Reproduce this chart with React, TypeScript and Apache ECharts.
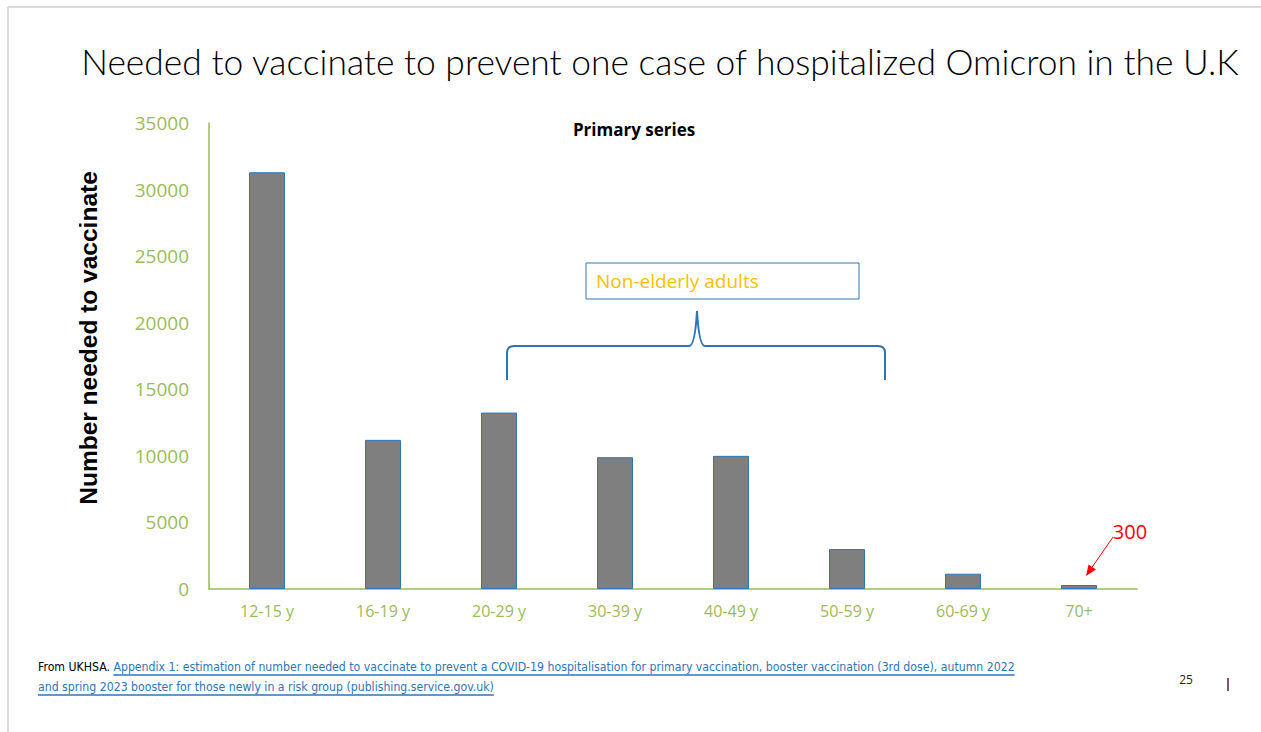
import React, { useEffect, useRef } from "react";
import * as echarts from "echarts";

const categories = ["12-15 y", "16-19 y", "20-29 y", "30-39 y", "40-49 y", "50-59 y", "60-69 y", "70+"];
const values = [31300, 11200, 13250, 9900, 10000, 3000, 1150, 300];
const yTicks = { min: 0, max: 35000, interval: 5000 };

const TITLE = "Needed to vaccinate to prevent one case of hospitalized Omicron in the U.K";
const SUBTITLE = "Primary series";
const Y_NAME = "Number needed to vaccinate";
const BOX_LABEL = "Non-elderly adults";
const ARROW_LABEL = "300";
const SRC_PREFIX = "From UKHSA. ";
const SRC_LINK1 = "Appendix 1: estimation of number needed to vaccinate to prevent a COVID-19 hospitalisation for primary vaccination, booster vaccination (3rd dose), autumn 2022";
const SRC_LINK2 = "and spring 2023 booster for those newly in a risk group (publishing.service.gov.uk)";
const PAGE_NO = "25";

const GREEN = "#9BBB59";
const BLUE = "#2E75B6";
const NARROW = "'Liberation Sans Narrow', 'DejaVu Sans Condensed', sans-serif";

const BRACE_D =
  "M507,380 L507,353 Q507,346 514,346 L689,346 Q695,346 697,311 Q699,346 705,346 L878,346 Q885,346 885,353 L885,380";

let braceRegistered = false;

function measure(text: string, font: string): number {
  const c = document.createElement("canvas");
  const ctx = c.getContext("2d");
  if (!ctx) return text.length * 5;
  ctx.font = font;
  return ctx.measureText(text).width;
}

export default function App() {
  const ref = useRef<HTMLDivElement>(null);

  useEffect(() => {
    if (!ref.current) return;
    if (!braceRegistered) {
      echarts.graphic.registerShape("brace", echarts.graphic.extendPath(BRACE_D, {}) as any);
      braceRegistered = true;
    }
    const chart = echarts.init(ref.current, null, { renderer: "svg" });

    const footFont = `12.2px ${NARROW}`;
    const prefixW = measure(SRC_PREFIX, footFont);
    const link1W = measure(SRC_LINK1, footFont);
    const link2W = measure(SRC_LINK2, footFont);
    const fx = 38;

    const tip = [1086, 576];
    const start = [1113, 537];
    const dx = tip[0] - start[0];
    const dy = tip[1] - start[1];
    const len = Math.sqrt(dx * dx + dy * dy);
    const ux = dx / len;
    const uy = dy / len;
    const bx = tip[0] - ux * 11;
    const by = tip[1] - uy * 11;
    const px = -uy;
    const py = ux;

    const option: any = {
      animation: false,
      backgroundColor: "#ffffff",
      grid: { left: 209, right: 124, top: 123, bottom: 143, containLabel: false },
      xAxis: {
        type: "category",
        data: categories,
        axisLine: { show: true, lineStyle: { color: GREEN, width: 1.5 } },
        axisTick: { show: false },
        axisLabel: {
          color: GREEN,
          fontSize: 16,
          fontFamily: "'Open Sans', sans-serif",
          margin: 14,
        },
      },
      yAxis: {
        type: "value",
        min: yTicks.min,
        max: yTicks.max,
        interval: yTicks.interval,
        axisLine: { show: true, lineStyle: { color: GREEN, width: 1.5 } },
        axisTick: { show: false },
        splitLine: { show: false },
        axisLabel: {
          color: GREEN,
          fontSize: 19,
          fontFamily: "'Open Sans', sans-serif",
          margin: 20,
          formatter: (v: number) => String(v),
        },
      },
      series: [
        {
          type: "bar",
          data: values,
          barWidth: 36,
          itemStyle: { color: "#7F7F7F", borderColor: BLUE, borderWidth: 1 },
        },
      ],
      graphic: [
        { type: "line", shape: { x1: 8, y1: 7, x2: 1261, y2: 7 }, style: { stroke: "#d9d9d9", lineWidth: 2 } },
        { type: "line", shape: { x1: 8, y1: 7, x2: 8, y2: 732 }, style: { stroke: "#d9d9d9", lineWidth: 2 } },
        {
          type: "text",
          x: 660,
          y: 61,
          style: {
            text: TITLE,
            fill: "#000000",
            fontSize: 35.4,
            fontWeight: 300,
            fontFamily: "Lato, 'Open Sans', sans-serif",
            align: "center",
            verticalAlign: "middle",
          },
        },
        {
          type: "text",
          x: 634,
          y: 129,
          style: {
            text: SUBTITLE,
            fill: "#000000",
            fontSize: 17,
            fontWeight: "bold",
            fontFamily: "'Open Sans', sans-serif",
            align: "center",
            verticalAlign: "middle",
          },
        },
        {
          type: "text",
          x: 88,
          y: 338,
          rotation: Math.PI / 2,
          style: {
            text: Y_NAME,
            fill: "#000000",
            fontSize: 24.5,
            fontWeight: "bold",
            fontFamily: "'Liberation Sans', Arial, sans-serif",
            align: "center",
            verticalAlign: "middle",
          },
        },
        {
          type: "rect",
          shape: { x: 586, y: 263, width: 273, height: 36 },
          style: { fill: "#ffffff", stroke: BLUE, lineWidth: 1 },
        },
        {
          type: "text",
          x: 596,
          y: 281,
          style: {
            text: BOX_LABEL,
            fill: "#FFC000",
            fontSize: 19,
            fontFamily: "'Open Sans', sans-serif",
            align: "left",
            verticalAlign: "middle",
          },
        },
        {
          type: "brace",
          x: 0,
          y: 0,
          shape: {},
          style: { fill: "none", stroke: BLUE, lineWidth: 2 },
        },
        {
          type: "text",
          x: 1130,
          y: 531,
          style: {
            text: ARROW_LABEL,
            fill: "#FF0000",
            fontSize: 20,
            fontFamily: "'Open Sans', sans-serif",
            align: "center",
            verticalAlign: "middle",
          },
        },
        {
          type: "line",
          shape: { x1: start[0], y1: start[1], x2: bx, y2: by },
          style: { stroke: "#FF0000", lineWidth: 1 },
        },
        {
          type: "polygon",
          shape: {
            points: [
              [tip[0], tip[1]],
              [bx + px * 4.5, by + py * 4.5],
              [bx - px * 4.5, by - py * 4.5],
            ],
          },
          style: { fill: "#FF0000" },
        },
        {
          type: "text",
          x: fx,
          y: 667,
          style: { text: SRC_PREFIX, fill: "#000000", font: footFont, verticalAlign: "middle" },
        },
        {
          type: "text",
          x: fx + prefixW,
          y: 667,
          style: { text: SRC_LINK1, fill: "#2E75B6", font: footFont, verticalAlign: "middle" },
        },
        {
          type: "line",
          shape: { x1: fx + prefixW, y1: 675, x2: fx + prefixW + link1W, y2: 675 },
          style: { stroke: "#2E75B6", lineWidth: 1.5 },
        },
        {
          type: "text",
          x: fx,
          y: 687,
          style: { text: SRC_LINK2, fill: "#2E75B6", font: footFont, verticalAlign: "middle" },
        },
        {
          type: "line",
          shape: { x1: fx, y1: 695, x2: fx + link2W, y2: 695 },
          style: { stroke: "#2E75B6", lineWidth: 1.5 },
        },
        {
          type: "text",
          x: 1186,
          y: 679,
          style: {
            text: PAGE_NO,
            fill: "#222222",
            fontSize: 12,
            fontFamily: "'Open Sans', sans-serif",
            align: "center",
            verticalAlign: "middle",
          },
        },
        {
          type: "line",
          shape: { x1: 1228, y1: 678, x2: 1228, y2: 691 },
          style: { stroke: "#5a2040", lineWidth: 1.5 },
        },
      ],
    };

    chart.setOption(option);
    return () => chart.dispose();
  }, []);

  return (
    <div
      ref={ref}
      style={{ position: "fixed", left: 0, top: 0, width: 1261, height: 732, background: "#fff" }}
    />
  );
}
